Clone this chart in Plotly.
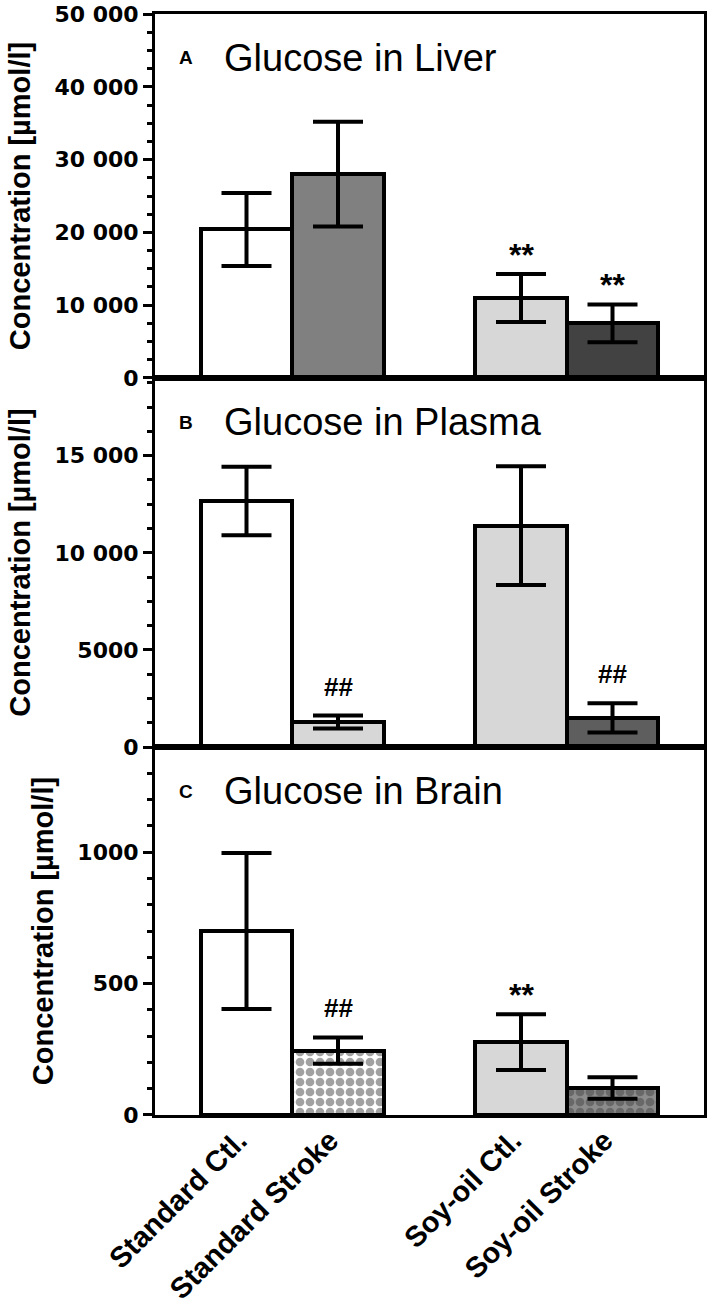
import plotly.graph_objects as go

categories = ["Standard Ctl.", "Standard Stroke", "Soy-oil Ctl.", "Soy-oil Stroke"]
positions = [0, 1, 3, 4]

liver_mean = [20400, 28000, 11000, 7500]
liver_sem = [5000, 7200, 3300, 2600]
plasma_mean = [12670, 1290, 11400, 1500]
plasma_sem = [1760, 330, 3060, 750]
brain_mean = [700, 245, 277, 103]
brain_sem = [297, 50, 106, 41]

liver_marks = ["", "", "**", "**"]
plasma_marks = ["", "##", "", "##"]
brain_marks = ["", "##", "**", ""]

liver_ticks = [0, 10000, 20000, 30000, 40000, 50000]
liver_ticktext = ["0", "10 000", "20 000", "30 000", "40 000", "50 000"]
plasma_ticks = [0, 5000, 10000, 15000]
plasma_ticktext = ["0", "5000", "10 000", "15 000"]
brain_ticks = [0, 500, 1000]
brain_ticktext = ["0", "500", "1000"]

panel_letters = ["A", "B", "C"]
panel_titles = ["Glucose in Liver", "Glucose in Plasma", "Glucose in Brain"]

# styles
SANS = "Liberation Sans"
TICKFONT = dict(family="DejaVu Sans", size=22, color="black", weight="bold")
LIGHT = "#d7d7d7"

panels = [
    dict(mean=liver_mean, sem=liver_sem, marks=liver_marks, ticks=liver_ticks,
         ticktext=liver_ticktext, rng=[0, 50000], minor=2500, domain=[0.6694, 1.0],
         colors=["white", "#808080", LIGHT, "#424242"],
         shapes=["", "", "", ""], fg=["black", "black", "black", "black"]),
    dict(mean=plasma_mean, sem=plasma_sem, marks=plasma_marks, ticks=plasma_ticks,
         ticktext=plasma_ticktext, rng=[0, 19000], minor=1250, domain=[0.3342, 0.6694],
         colors=["white", LIGHT, LIGHT, "#5e5e5e"],
         shapes=["", "", "", ""], fg=["black", "black", "black", "black"]),
    dict(mean=brain_mean, sem=brain_sem, marks=brain_marks, ticks=brain_ticks,
         ticktext=brain_ticktext, rng=[0, 1400], minor=100, domain=[0.0, 0.3342],
         colors=["white", "white", LIGHT, "#8c8c8c"],
         shapes=["", ".", "", "."], fg=["black", "black", "black", "#111111"]),
]

fig = go.Figure()
annotations = []
mark_shift = {"**": 19, "##": 29}
mark_size = {"**": 32, "##": 26}

for k, p in enumerate(panels):
    n = "" if k == 0 else str(k + 1)
    fig.add_trace(go.Bar(
        x=positions, y=p["mean"], width=1.0,
        xaxis="x" + n, yaxis="y" + n,
        marker=dict(color=p["colors"], line=dict(color="black", width=4),
                    pattern=dict(shape=p["shapes"], fgcolor=p["fg"], size=10,
                                 solidity=0.6, fillmode="overlay")),
        error_y=dict(type="data", array=p["sem"], color="black", thickness=4, width=25),
        showlegend=False, hoverinfo="skip",
    ))
    layout_x = dict(domain=[0, 1], range=[-1, 5], anchor="y" + n, showline=True,
                    linecolor="black", linewidth=3, mirror=True, ticks="",
                    showgrid=False, zeroline=False, fixedrange=True)
    if k == 2:
        layout_x.update(tickmode="array", tickvals=positions, ticktext=categories,
                        tickangle=-45,
                        tickfont=dict(family=SANS, size=29, color="black", weight="bold"),
                        ticklabelstandoff=-6, ticklabelshift=-8)
    else:
        layout_x.update(showticklabels=False)
    layout_y = dict(domain=p["domain"], range=p["rng"], anchor="x" + n,
                    showline=True, linecolor="black", linewidth=3, mirror=True,
                    ticks="outside", ticklen=9, tickwidth=3, tickcolor="black",
                    tickmode="array", tickvals=p["ticks"], ticktext=p["ticktext"],
                    tickfont=TICKFONT, showgrid=False, zeroline=False, fixedrange=True,
                    minor=dict(tickmode="linear", tick0=0, dtick=p["minor"], ticks="outside",
                               ticklen=5, tickwidth=3, tickcolor="black", showgrid=False),
                    title=dict(text="Concentration [µmol/l]",
                               font=dict(family=SANS, size=29, color="black", weight="bold"),
                               standoff=16))
    fig.update_layout(**{"xaxis" + n: layout_x, "yaxis" + n: layout_y})

    annotations.append(dict(xref="x" + n + " domain", yref="y" + n + " domain",
                            x=0.056, y=0.88, text=panel_letters[k],
                            showarrow=False, xanchor="center", yanchor="middle",
                            font=dict(family=SANS, size=19, color="black", weight="bold")))
    annotations.append(dict(xref="x" + n + " domain", yref="y" + n + " domain",
                            x=0.122, y=0.88, text=panel_titles[k],
                            showarrow=False, xanchor="left", yanchor="middle",
                            font=dict(family=SANS, size=38, color="black")))
    for i, m in enumerate(p["marks"]):
        if m:
            annotations.append(dict(xref="x" + n, yref="y" + n, x=positions[i],
                                    y=p["mean"][i] + p["sem"][i], text=m,
                                    showarrow=False, xanchor="center", yanchor="middle",
                                    yshift=mark_shift[m],
                                    font=dict(family=SANS, size=mark_size[m], color="black",
                                              weight="bold")))

fig.update_layout(width=709, height=1313, margin=dict(l=155, r=2, t=14, b=198),
                  paper_bgcolor="white", plot_bgcolor="white", bargap=0,
                  annotations=annotations)

fig.write_html("out.html", config={"displayModeBar": False},
               post_script="document.body.style.margin='0';document.body.style.overflow='hidden';")
